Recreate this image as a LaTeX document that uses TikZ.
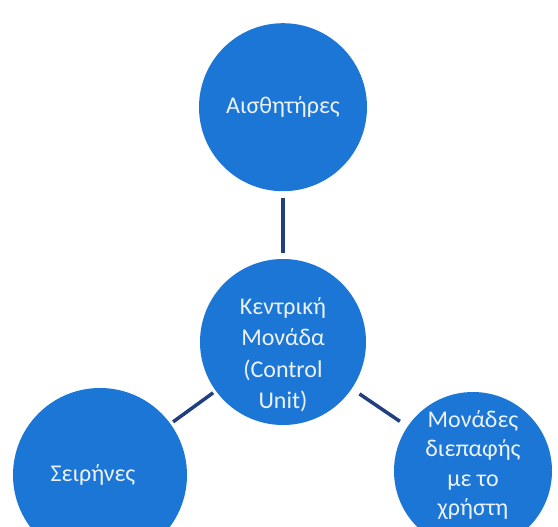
\documentclass[tikz,border=0pt]{standalone}
\usepackage{fontspec}
\setmainfont{Carlito}
\usepackage{xcolor}
\usetikzlibrary{positioning}
\definecolor{hubblue}{RGB}{28,118,214}
\definecolor{linkblue}{RGB}{32,62,128}
\definecolor{hubtext}{RGB}{236,242,250}

\begin{document}
\begin{tikzpicture}[x=1pt, y=-1pt, thick]
    % Background with the reference's margins
    \useasboundingbox[fill=white] (0,0) rectangle (558,527);

    \tikzset{
        hub/.style={circle, fill=hubblue, text=hubtext, align=center, inner sep=0pt,
            font=\fontsize{24}{31.5}\selectfont},
        link/.style={draw=linkblue, line width=3.5pt}
    }

    % Central circle, the others placed around it
    \node[hub, minimum size=166pt] (ctrl) at (283,342) {\rule{0pt}{42pt}Κεντρική\\Μονάδα\\(Control\\Unit)};

    \node[hub, minimum size=168pt, above=67pt of ctrl] (sensors) {Αισθητήρες};

    \node[hub, minimum size=174pt] (sirens) at (100,475) {Σειρήνες\hspace{14pt}};

    \node[hub, minimum size=158pt, font=\fontsize{24}{29.5}\selectfont] (ui) at (473,471)
        {Μονάδες\\διεπαφής\\με το\\χρήστη\rule[-16pt]{0pt}{0pt}};

    % Connectors
    \draw[link, shorten <=6pt, shorten >=6pt] (ctrl) -- (sensors);
    \draw[link, shorten <=3pt, shorten >=3pt] (ctrl) -- (sirens);
    \draw[link, shorten <=9pt, shorten >=9pt] (ctrl) -- (ui);
\end{tikzpicture}
\end{document}
